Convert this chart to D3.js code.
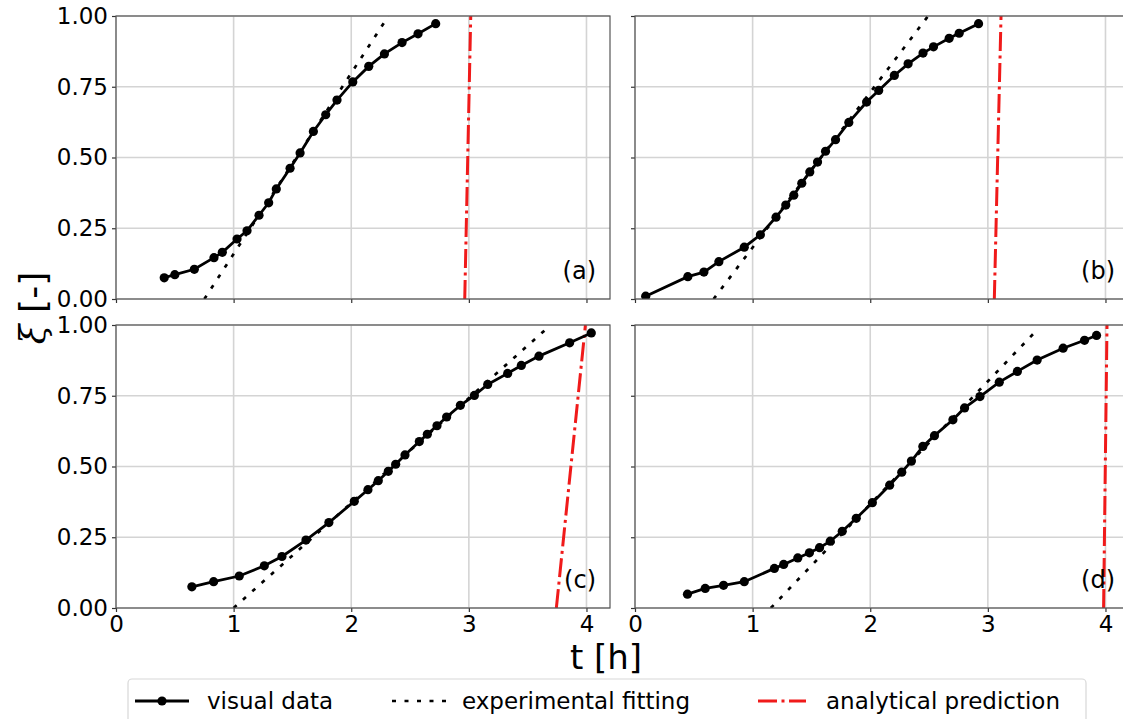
<!DOCTYPE html>
<html>
<head>
<meta charset="utf-8">
<script src="https://cdn.jsdelivr.net/npm/d3@7"></script>
<style>
  html, body { margin: 0; padding: 0; background: #fff; }
  svg { display: block; font-family: "DejaVu Sans", sans-serif; }
</style>
</head>
<body>
<svg id="chart" width="1123" height="719"></svg>
<script>
// tick values
var xTicks = [0, 1, 2, 3, 4];
var yTicks = [0, 0.25, 0.5, 0.75, 1];
var panelNames = ["(a)", "(b)", "(c)", "(d)"];
var legendNames = ["visual data", "experimental fitting", "analytical prediction"];

// visual data (t in h, xi in -)
var tA  = [0.41, 0.50, 0.666, 0.833, 0.904, 1.029, 1.114, 1.216, 1.298, 1.363, 1.480, 1.565, 1.678, 1.783, 1.879, 2.013, 2.149, 2.282, 2.432, 2.568, 2.718];
var xiA = [0.075, 0.086, 0.105, 0.146, 0.165, 0.212, 0.241, 0.296, 0.340, 0.389, 0.462, 0.516, 0.592, 0.651, 0.703, 0.767, 0.822, 0.866, 0.906, 0.937, 0.973];

var tB  = [0.091, 0.449, 0.586, 0.713, 0.929, 1.066, 1.199, 1.282, 1.350, 1.418, 1.486, 1.552, 1.620, 1.705, 1.818, 1.969, 2.072, 2.205, 2.322, 2.449, 2.538, 2.671, 2.756, 2.921];
var xiB = [0.010, 0.079, 0.095, 0.132, 0.183, 0.227, 0.289, 0.332, 0.367, 0.409, 0.449, 0.484, 0.522, 0.563, 0.624, 0.696, 0.737, 0.790, 0.831, 0.869, 0.891, 0.921, 0.939, 0.973];

var tC  = [0.645, 0.830, 1.048, 1.261, 1.411, 1.615, 1.810, 2.026, 2.142, 2.230, 2.315, 2.378, 2.457, 2.579, 2.647, 2.729, 2.811, 2.928, 3.047, 3.160, 3.330, 3.446, 3.596, 3.857, 4.041];
var xiC = [0.075, 0.093, 0.113, 0.149, 0.182, 0.240, 0.302, 0.377, 0.418, 0.450, 0.483, 0.508, 0.541, 0.588, 0.614, 0.644, 0.675, 0.716, 0.751, 0.790, 0.829, 0.857, 0.890, 0.937, 0.972];

var tD  = [0.446, 0.597, 0.753, 0.929, 1.185, 1.264, 1.384, 1.483, 1.569, 1.660, 1.762, 1.881, 2.018, 2.165, 2.268, 2.350, 2.447, 2.546, 2.703, 2.802, 2.933, 3.097, 3.251, 3.419, 3.640, 3.822, 3.924];
var xiD = [0.049, 0.069, 0.080, 0.093, 0.140, 0.154, 0.177, 0.195, 0.213, 0.236, 0.271, 0.317, 0.372, 0.434, 0.480, 0.519, 0.571, 0.609, 0.665, 0.707, 0.747, 0.798, 0.836, 0.876, 0.918, 0.946, 0.963];

// experimental fitting lines (end points)
var fitT  = [[0.751, 2.316], [0.668, 2.492], [1.0, 3.696], [1.155, 3.41]];
var fitXi = [[0, 1], [0, 1], [0, 1], [0, 0.979]];

// analytical prediction lines (end points)
var predT  = [[2.965, 3.016], [3.055, 3.112], [3.744, 3.991], [3.984, 4.013]];
var predXi = [[0, 1], [0, 1], [0, 1], [0, 1]];

var dataT  = [tA, tB, tC, tD];
var dataXi = [xiA, xiB, xiC, xiD];

var svg = d3.select("#chart");

var cols = [[116, 610], [635, 1129]];
var rows = [[16, 299], [325, 608]];

var red = "#f01a1a";
var dotDash = "4,8.5";
var redDash = "19,4.5,3,4.5";

function pairs(ts, xs) {
  return ts.map(function(t, i){ return [t, xs[i]]; });
}

panelNames.forEach(function(name, k) {
  var col = k % 2, row = Math.floor(k / 2);
  var x = d3.scaleLinear().domain([0, 4.2]).range(cols[col]);
  var y = d3.scaleLinear().domain([0, 1]).range([rows[row][1], rows[row][0]]);
  var g = svg.append("g");

  // grid
  g.selectAll("line.gx").data(xTicks).enter().append("line")
    .attr("x1", function(d){ return x(d); }).attr("x2", function(d){ return x(d); })
    .attr("y1", y(0)).attr("y2", y(1))
    .attr("stroke", "#d4d4d4").attr("stroke-width", 1.6);
  g.selectAll("line.gy").data(yTicks).enter().append("line")
    .attr("x1", x(0)).attr("x2", x(4.2))
    .attr("y1", function(d){ return y(d); }).attr("y2", function(d){ return y(d); })
    .attr("stroke", "#d4d4d4").attr("stroke-width", 1.6);

  // clip to the axes box
  var clipId = "clip" + k;
  svg.append("clipPath").attr("id", clipId).append("rect")
    .attr("x", x(0)).attr("y", y(1)).attr("width", x(4.2) - x(0)).attr("height", y(0) - y(1));
  var plot = g.append("g").attr("clip-path", "url(#" + clipId + ")");

  var line = d3.line().x(function(d){ return x(d[0]); }).y(function(d){ return y(d[1]); });

  // fitting
  plot.append("path").datum(pairs(fitT[k], fitXi[k]))
    .attr("d", line).attr("fill", "none")
    .attr("stroke", "#000").attr("stroke-width", 2.7)
    .attr("stroke-dasharray", dotDash);

  // prediction
  plot.append("path").datum(pairs(predT[k], predXi[k]))
    .attr("d", line).attr("fill", "none")
    .attr("stroke", red).attr("stroke-width", 3)
    .attr("stroke-dasharray", redDash);

  // visual data
  var pts = pairs(dataT[k], dataXi[k]);
  plot.append("path").datum(pts)
    .attr("d", line).attr("fill", "none")
    .attr("stroke", "#000").attr("stroke-width", 2.8);
  plot.selectAll("circle").data(pts).enter().append("circle")
    .attr("cx", function(d){ return x(d[0]); })
    .attr("cy", function(d){ return y(d[1]); })
    .attr("r", 4.6).attr("fill", "#000");

  // axes
  var ax = d3.axisBottom(x).tickValues(xTicks).tickSize(4).tickPadding(4)
    .tickFormat(row === 1 ? d3.format("d") : function(){ return ""; });
  var ay = d3.axisLeft(y).tickValues(yTicks).tickSize(4).tickPadding(4)
    .tickFormat(col === 0 ? d3.format(".2f") : function(){ return ""; });

  var gx = g.append("g").attr("transform", "translate(0," + y(0) + ")").call(ax);
  var gy = g.append("g").attr("transform", "translate(" + x(0) + ",0)").call(ay);
  [gx, gy].forEach(function(a){
    a.select(".domain").remove();
    a.selectAll(".tick line").attr("stroke", "#333").attr("stroke-width", 1.2);
    a.selectAll(".tick text").attr("fill", "#000").style("font-size", "23px")
      .style("font-family", "DejaVu Sans");
  });

  // frame
  g.append("rect")
    .attr("x", x(0)).attr("y", y(1))
    .attr("width", x(4.2) - x(0)).attr("height", y(0) - y(1))
    .attr("fill", "none").attr("stroke", "#555").attr("stroke-width", 1.2);

  // panel label
  g.append("text")
    .attr("x", x(4.2) - 14).attr("y", y(0) - 20)
    .attr("text-anchor", "end")
    .style("font-size", "24px")
    .text(name);
});

// axis titles
svg.append("text")
  .attr("x", 606).attr("y", 669)
  .attr("text-anchor", "middle")
  .style("font-size", "34px")
  .text("t [h]");

var yl = svg.append("text")
  .attr("transform", "translate(45,308) rotate(-90)")
  .attr("text-anchor", "middle")
  .style("font-size", "36px");
yl.append("tspan").style("font-style", "italic").style("font-family", "DejaVu Serif").text("\u03be");
yl.append("tspan").text(" [-]");

// legend
var lg = svg.append("g");
lg.append("rect")
  .attr("x", 128).attr("y", 679).attr("width", 958).attr("height", 46)
  .attr("rx", 4).attr("fill", "#fff").attr("stroke", "#d8d8d8").attr("stroke-width", 1.2);

var handleX = [135, 392, 758];
var textX = [207, 462, 826];
var ly = 701;

lg.append("line").attr("x1", handleX[0]).attr("x2", handleX[0] + 54).attr("y1", ly).attr("y2", ly)
  .attr("stroke", "#000").attr("stroke-width", 2.8);
lg.append("circle").attr("cx", handleX[0] + 27).attr("cy", ly).attr("r", 4.6).attr("fill", "#000");
lg.append("line").attr("x1", handleX[1]).attr("x2", handleX[1] + 54).attr("y1", ly).attr("y2", ly)
  .attr("stroke", "#000").attr("stroke-width", 2.7).attr("stroke-dasharray", dotDash);
lg.append("line").attr("x1", handleX[2]).attr("x2", handleX[2] + 48).attr("y1", ly).attr("y2", ly)
  .attr("stroke", red).attr("stroke-width", 3).attr("stroke-dasharray", redDash);

legendNames.forEach(function(n, i){
  lg.append("text").attr("x", textX[i]).attr("y", ly + 8)
    .style("font-size", "23px").text(n);
});
</script>
</body>
</html>
